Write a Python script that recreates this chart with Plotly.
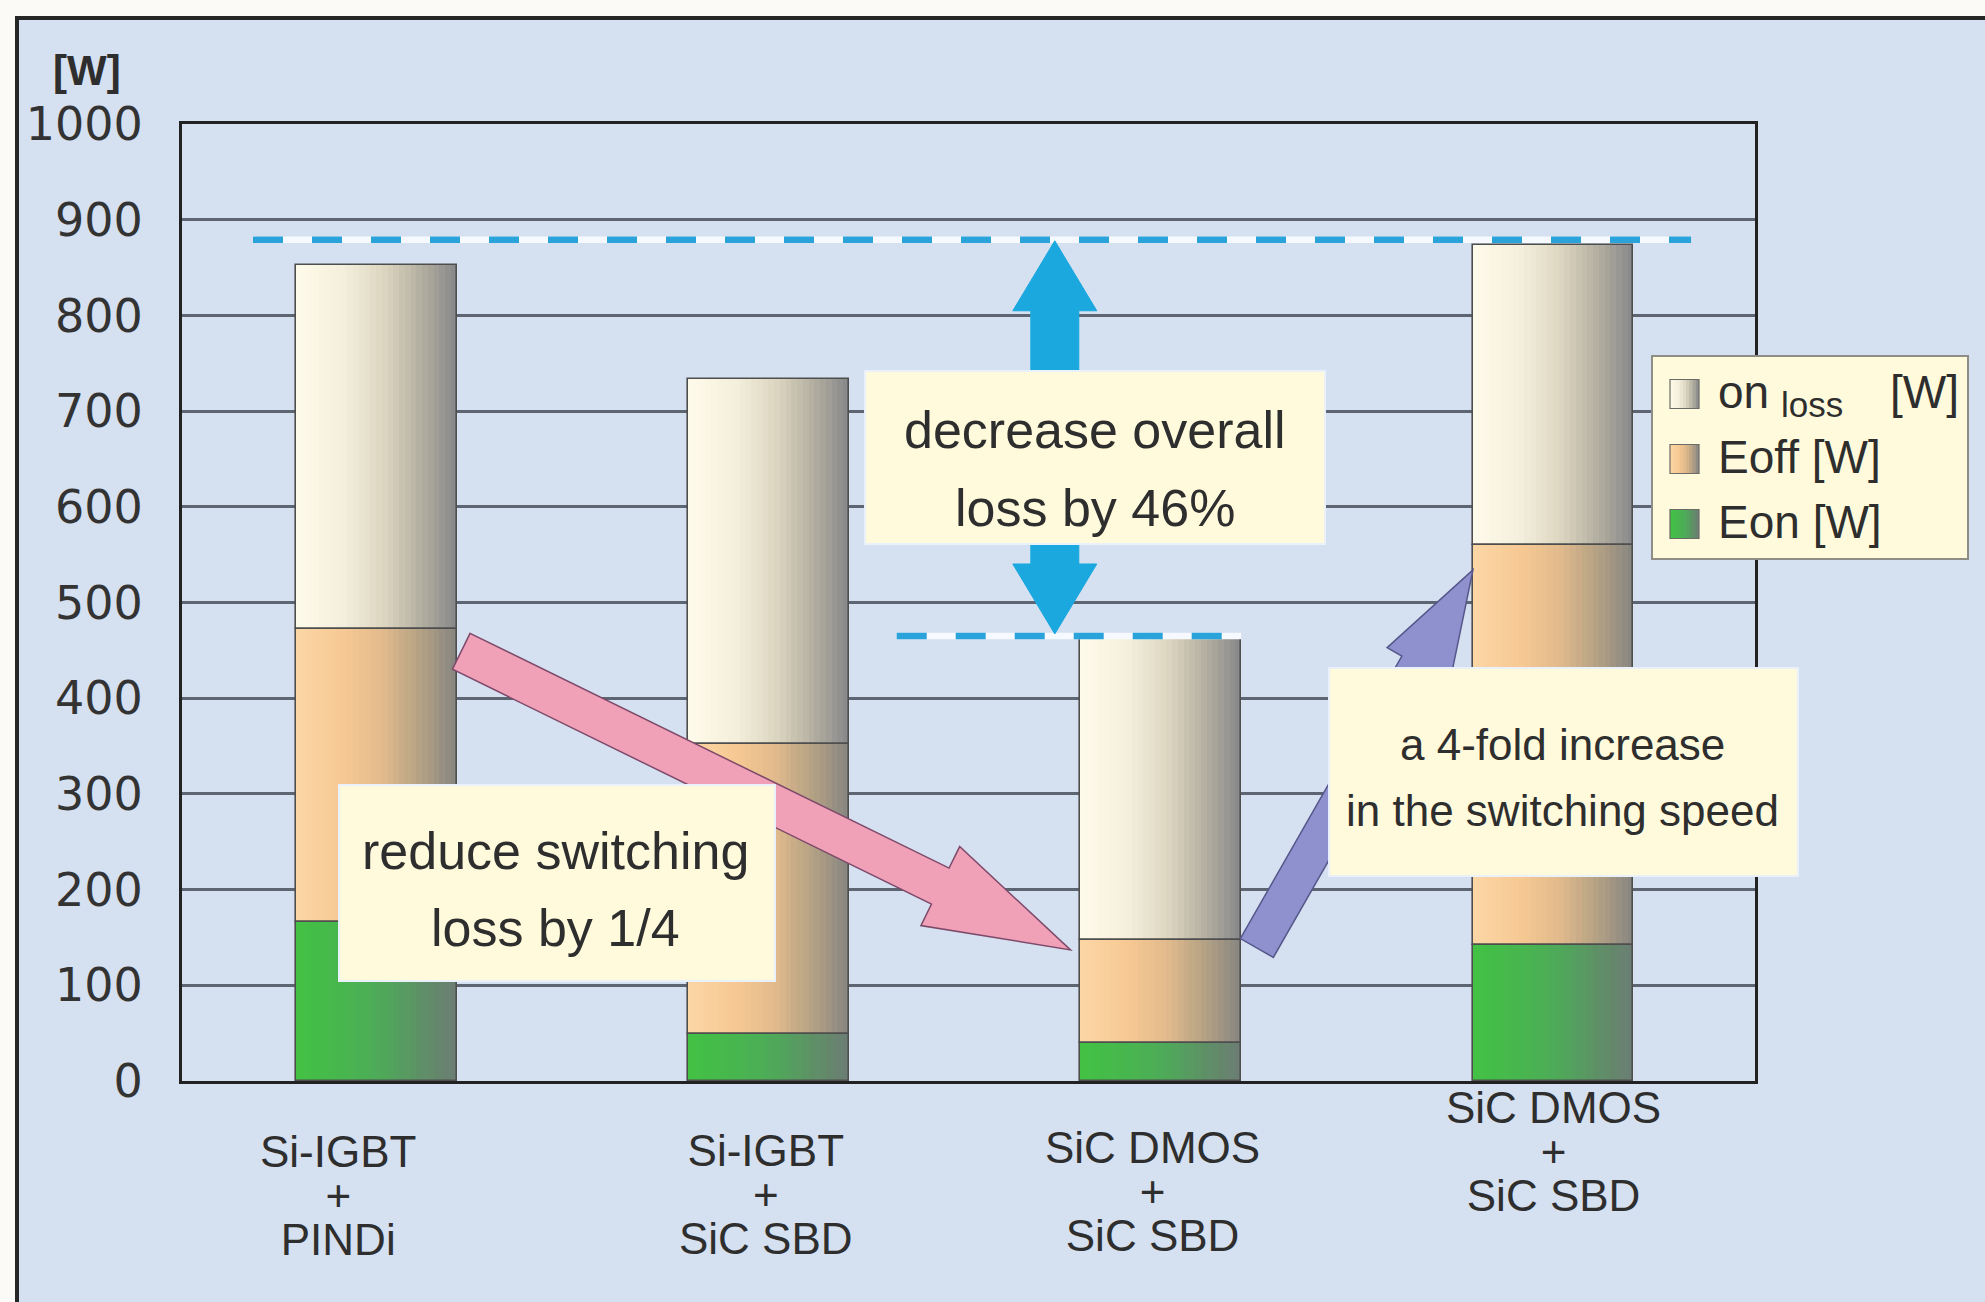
import plotly.graph_objects as go

# ---------------- data ----------------
categories = [["Si-IGBT", "+", "PINDi"],
              ["Si-IGBT", "+", "SiC SBD"],
              ["SiC DMOS", "+", "SiC SBD"],
              ["SiC DMOS", "+", "SiC SBD"]]
eon = [166, 49, 40, 142]
eoff = [306, 303, 107, 418]
on_loss = [381, 382, 319, 314]
ref_levels = [879, 465]
y_ticks = [0, 100, 200, 300, 400, 500, 600, 700, 800, 900, 1000]
unit_label = "[W]"
legend_labels = [("on", "loss", "[W]"), ("Eoff [W]",), ("Eon [W]",)]
note_overall = ["decrease overall", "loss by 46%"]
note_switching = ["reduce switching", "loss by 1/4"]
note_speed = ["a 4-fold increase", "in the switching speed"]

# ---------------- geometry helpers ----------------
W, H = 1985, 1302
L, R, T, B = 182, 1755, 124, 1081
XR = [-0.495, 3.515]
YR = [0, 1000]
FONT = "Liberation Sans, Arial, sans-serif"
TXT = "#2e2e2e"


def px(x):  # data x -> pixel
    return L + (x - XR[0]) / (XR[1] - XR[0]) * (R - L)


def py(y):  # data y -> pixel
    return B - (y - YR[0]) / (YR[1] - YR[0]) * (B - T)


def fx(p):  # pixel -> paper x
    return (p - L) / (R - L)


def fy(p):  # pixel -> paper y
    return (B - p) / (B - T)


def hex2rgb(h):
    h = h.lstrip("#")
    return tuple(int(h[i:i + 2], 16) for i in (0, 2, 4))


def grad(stops, t):
    for (t0, c0), (t1, c1) in zip(stops[:-1], stops[1:]):
        if t <= t1:
            a, b = hex2rgb(c0), hex2rgb(c1)
            u = (t - t0) / (t1 - t0) if t1 > t0 else 0
            return "rgb(%d,%d,%d)" % tuple(round(a[k] + (b[k] - a[k]) * u) for k in range(3))
    return "rgb(%d,%d,%d)" % hex2rgb(stops[-1][1])


on_stops = [(0, "#fffbea"), (0.3, "#f4efdc"), (0.55, "#dcd6c0"), (0.78, "#b3afa0"), (1, "#86878a")]
eoff_stops = [(0, "#fcd6a6"), (0.3, "#f6c993"), (0.55, "#e0b98b"), (0.78, "#b3a185"), (1, "#868580")]
eon_stops = [(0, "#42c243"), (0.3, "#48b64e"), (0.55, "#4fa85a"), (0.78, "#5e9066"), (1, "#6c7c74")]

xs = list(range(len(categories)))
bar_w = 0.41
N = 28
base_eon = [0] * len(xs)
base_eoff = [a for a in eon]
base_on = [a + b for a, b in zip(eon, eoff)]

fig = go.Figure()
segments = [(eon, base_eon, eon_stops), (eoff, base_eoff, eoff_stops), (on_loss, base_on, on_stops)]
for vals, bases, stops in segments:
    for i in range(N):
        t = (i + 0.5) / N
        off = -bar_w / 2 + i * bar_w / N
        fig.add_trace(go.Bar(
            x=xs, y=vals, base=bases, width=bar_w - i * bar_w / N, offset=off,
            marker=dict(color=grad(stops, t), line=dict(width=0)),
            hoverinfo="skip", showlegend=False))
for vals, bases, stops in segments:
    fig.add_trace(go.Bar(
        x=xs, y=vals, base=bases, width=bar_w, offset=-bar_w / 2,
        marker=dict(color="rgba(0,0,0,0)", line=dict(width=1.6, color="#4e4e4e")),
        hoverinfo="skip", showlegend=False))

shapes = []
ann = []

# background frame
shapes.append(dict(type="rect", xref="paper", yref="paper", layer="below",
                   x0=fx(17), x1=fx(2030), y0=fy(1340), y1=fy(18),
                   fillcolor="#d5e0f0", line=dict(color="#262626", width=4)))

# dashed reference lines
dash_spans = [(-0.314, 3.352), (1.327, 2.205)]
for lvl, (a, b) in zip(ref_levels, dash_spans):
    shapes.append(dict(type="line", xref="x", yref="y", x0=a, x1=b, y0=lvl, y1=lvl,
                       line=dict(color="#f6f9fd", width=6.5)))
    shapes.append(dict(type="line", xref="x", yref="y", x0=a, x1=b, y0=lvl, y1=lvl,
                       line=dict(color="#2aa3db", width=6.5, dash="30px,29px")))


def poly(pts, fill, line_color, lw):
    d = "M " + " L ".join("%.5f,%.5f" % (fx(p[0]), fy(p[1])) for p in pts) + " Z"
    return dict(type="path", xref="paper", yref="paper", path=d, fillcolor=fill,
                line=dict(color=line_color, width=lw), layer="above")


def block_arrow(tail, tip, w, hw, hl):
    (x0, y0), (x1, y1) = tail, tip
    dx, dy = x1 - x0, y1 - y0
    ln = (dx * dx + dy * dy) ** 0.5
    ux, uy = dx / ln, dy / ln
    nx, ny = -uy, ux
    bx, by = x1 - hl * ux, y1 - hl * uy
    return [(x0 - w * nx, y0 - w * ny), (bx - w * nx, by - w * ny), (bx - hw * nx, by - hw * ny),
            (x1, y1), (bx + hw * nx, by + hw * ny), (bx + w * nx, by + w * ny),
            (x0 + w * nx, y0 + w * ny)]


# blue double arrow between the two reference levels
ax = px(1.73)
ytop, ybot = py(ref_levels[0]) + 1, py(ref_levels[1]) - 2
hl, hw, sw = 70, 42, 24
blue_pts = [(ax, ytop), (ax + hw, ytop + hl), (ax + sw, ytop + hl), (ax + sw, ybot - hl),
            (ax + hw, ybot - hl), (ax, ybot), (ax - hw, ybot - hl), (ax - sw, ybot - hl),
            (ax - sw, ytop + hl), (ax - hw, ytop + hl)]
shapes.append(poly(blue_pts, "#1aa8df", "#1aa8df", 1))

# pink arrow (bar 1 -> bar 3)
pink = block_arrow((px(0.217), py(449)), (px(1.77), py(137)), 20, 44, 145)
shapes.append(poly(pink, "#f0a1b8", "#7e4a6a", 1.5))
# purple arrow (bar 3 -> bar 4)
purple = block_arrow((px(2.245), py(139)), (px(2.796), py(534)), 19, 36, 110)
shapes.append(poly(purple, "#8e91cd", "#55578a", 1.5))

# note boxes
boxes = [((865, 371, 1325, 544), note_overall, [430, 508], 1095, 52),
         ((339, 785, 775, 981), note_switching, [851, 928], 555, 52),
         ((1329, 668, 1798, 876), note_speed, [744, 810], 1562, 44)]
for (x0, y0, x1, y1), lines, ys_, cx, fs in boxes:
    shapes.append(dict(type="rect", xref="paper", yref="paper", x0=fx(x0), x1=fx(x1),
                       y0=fy(y1), y1=fy(y0), fillcolor="#fffadb",
                       line=dict(color="#eaf1fa", width=2), layer="above"))
    for txt, yy in zip(lines, ys_):
        ann.append(dict(text=txt, xref="paper", yref="paper", x=fx(cx), y=fy(yy),
                        xanchor="center", yanchor="middle", showarrow=False,
                        font=dict(family=FONT, size=fs, color=TXT)))

# legend box
shapes.append(dict(type="rect", xref="paper", yref="paper", x0=fx(1652), x1=fx(1968),
                   y0=fy(559), y1=fy(356), fillcolor="#fffadb",
                   line=dict(color="#8e8e86", width=2), layer="above"))
sym_rows = [394, 459, 524]
sym_x0, sym_s = 1670, 29
for stops, yc in zip([on_stops, eoff_stops, eon_stops], sym_rows):
    M = 9
    for i in range(M):
        t = (i + 0.5) / M
        shapes.append(dict(type="rect", xref="paper", yref="paper",
                           x0=fx(sym_x0 + i * sym_s / M), x1=fx(sym_x0 + sym_s),
                           y0=fy(yc + sym_s / 2), y1=fy(yc - sym_s / 2),
                           fillcolor=grad(stops, t), line=dict(width=0), layer="above"))
    shapes.append(dict(type="rect", xref="paper", yref="paper",
                       x0=fx(sym_x0), x1=fx(sym_x0 + sym_s),
                       y0=fy(yc + sym_s / 2), y1=fy(yc - sym_s / 2),
                       fillcolor="rgba(0,0,0,0)", line=dict(color="#6a6a66", width=1.2), layer="above"))

lfs = 46
ann.append(dict(text=legend_labels[0][0], xref="paper", yref="paper", x=fx(1716), y=fy(392),
                xanchor="left", yanchor="middle", showarrow=False,
                font=dict(family=FONT, size=lfs, color=TXT)))
ann.append(dict(text=legend_labels[0][1], xref="paper", yref="paper", x=fx(1779), y=fy(404),
                xanchor="left", yanchor="middle", showarrow=False,
                font=dict(family=FONT, size=35, color=TXT)))
ann.append(dict(text=legend_labels[0][2], xref="paper", yref="paper", x=fx(1888), y=fy(392),
                xanchor="left", yanchor="middle", showarrow=False,
                font=dict(family=FONT, size=lfs, color=TXT)))
for lab, yc in zip(legend_labels[1:], sym_rows[1:]):
    ann.append(dict(text=lab[0], xref="paper", yref="paper", x=fx(1716), y=fy(yc - 2),
                    xanchor="left", yanchor="middle", showarrow=False,
                    font=dict(family=FONT, size=lfs, color=TXT)))

# unit label
ann.append(dict(text="<b>%s</b>" % unit_label, xref="paper", yref="paper", x=fx(87), y=fy(71),
                xanchor="center", yanchor="middle", showarrow=False,
                font=dict(family=FONT, size=42, color=TXT)))

# category labels: one text block each, tight line pitch via small base size
label_cx = [338, 766, 1152, 1553]
label_cy = [1195, 1194, 1191, 1151]
for lines, cx, cy in zip(categories, label_cx, label_cy):
    txt = "<br>".join("<span style='font-size:44px'>%s</span>" % s for s in lines)
    ann.append(dict(text=txt, xref="paper", yref="paper", x=fx(cx), y=fy(cy),
                    xanchor="center", yanchor="middle", showarrow=False,
                    font=dict(family=FONT, size=34, color=TXT)))

fig.update_layout(
    width=W, height=H,
    margin=dict(l=L, r=W - R, t=T, b=H - B, pad=0),
    paper_bgcolor="#fbfaf6", plot_bgcolor="#d5e0f0",
    barmode="overlay", bargap=0, showlegend=False,
    shapes=shapes, annotations=ann,
    xaxis=dict(range=XR, showgrid=False, zeroline=False, showticklabels=False, ticks="",
               showline=True, mirror=True, linecolor="#222222", linewidth=3),
    yaxis=dict(range=YR, tickvals=y_ticks, ticktext=[str(v) for v in y_ticks],
               showgrid=True, gridcolor="#5d6572", gridwidth=2.5, zeroline=False,
               showline=True, mirror=True, linecolor="#222222", linewidth=3,
               ticks="", ticklabelstandoff=27,
               tickfont=dict(family="DejaVu Sans, Verdana, sans-serif", size=46, color="#333333")),
)

fig.write_html("out.html", config={"displayModeBar": False},
               post_script="document.body.style.margin='0';document.body.style.overflow='hidden';")
